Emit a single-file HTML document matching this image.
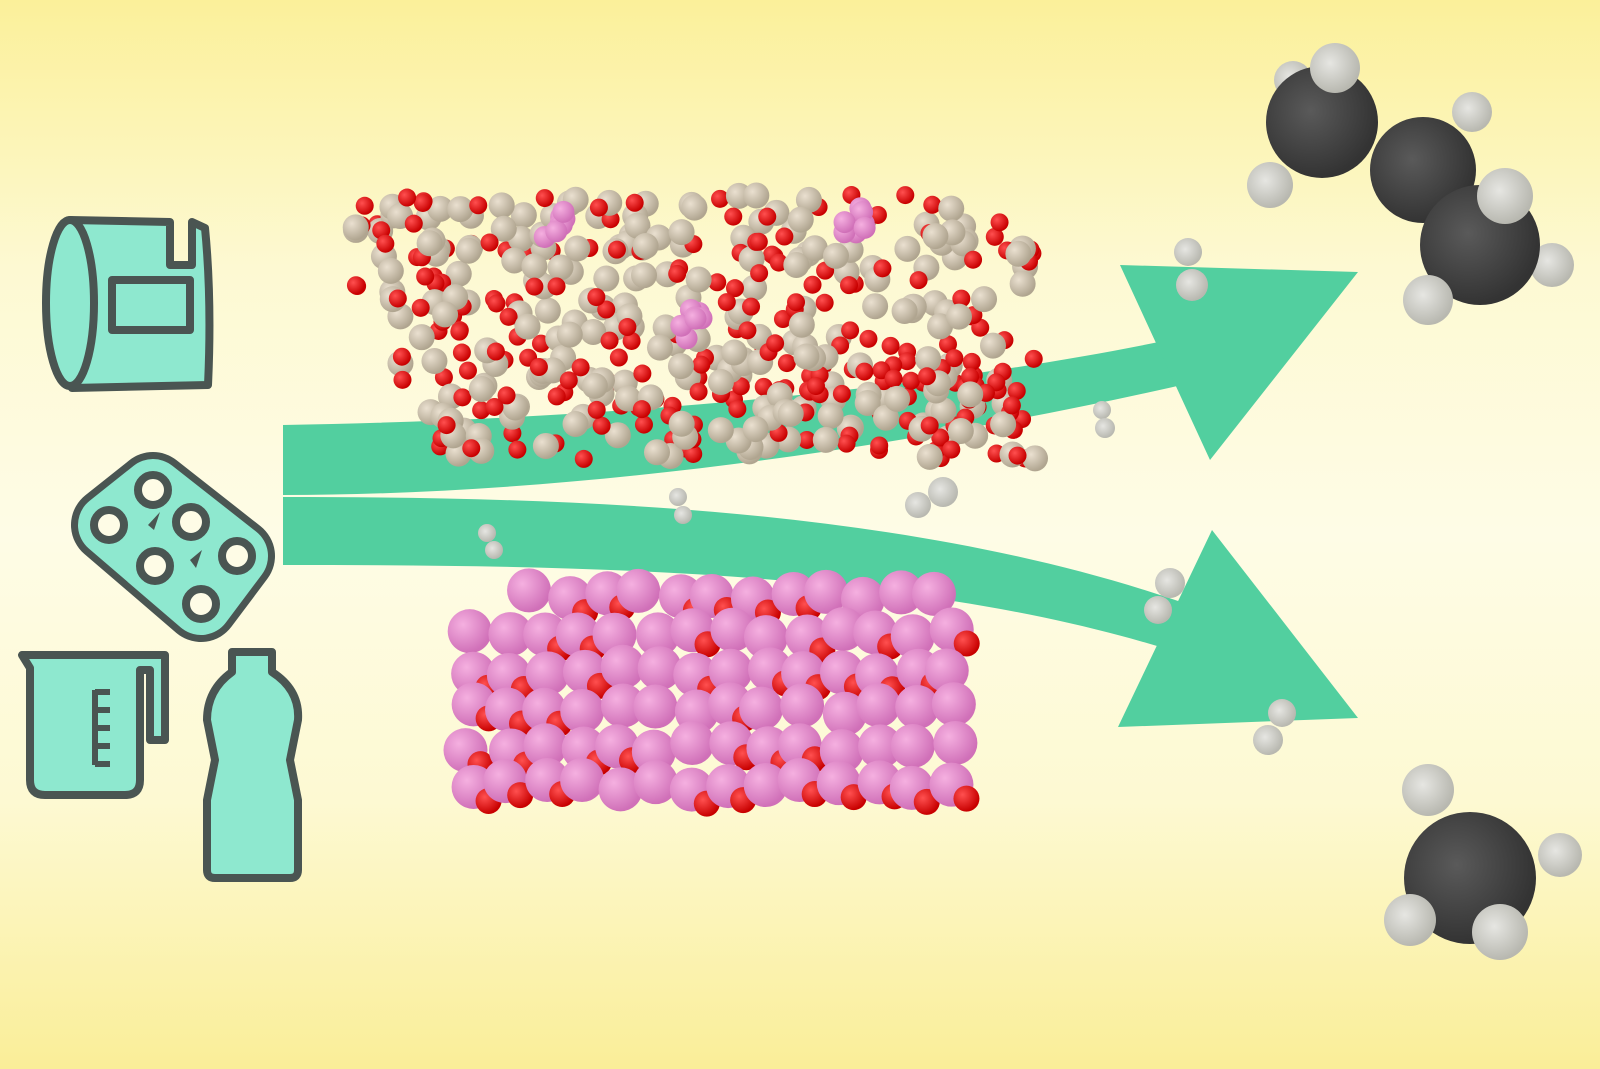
<!DOCTYPE html>
<html><head><meta charset="utf-8">
<style>html,body{margin:0;padding:0;width:1600px;height:1069px;overflow:hidden}</style>
</head><body>
<svg id="s" width="1600" height="1069" viewBox="0 0 1600 1069" xmlns="http://www.w3.org/2000/svg">
<defs>
<linearGradient id="bg" x1="0" y1="0" x2="0" y2="1">
<stop offset="0" stop-color="#fbf09a"/><stop offset="0.25" stop-color="#fdf9d2"/>
<stop offset="0.5" stop-color="#fefce6"/><stop offset="0.75" stop-color="#fdf9d2"/>
<stop offset="1" stop-color="#faee98"/></linearGradient>
<radialGradient id="dk" cx="0.4" cy="0.4" r="0.6"><stop offset="0" stop-color="#5a5a5a"/><stop offset="1" stop-color="#333"/></radialGradient>
<radialGradient id="wh" cx="0.4" cy="0.4" r="0.6"><stop offset="0" stop-color="#e6e6e2"/><stop offset="1" stop-color="#b8b8b0"/></radialGradient>
<radialGradient id="rd" cx="0.35" cy="0.35" r="0.65"><stop offset="0" stop-color="#ff5050"/><stop offset="1" stop-color="#c80000"/></radialGradient>
<radialGradient id="bz" cx="0.35" cy="0.35" r="0.65"><stop offset="0" stop-color="#eae0d0"/><stop offset="1" stop-color="#b0a590"/></radialGradient>
<radialGradient id="pk" cx="0.35" cy="0.35" r="0.65"><stop offset="0" stop-color="#f5b0e0"/><stop offset="1" stop-color="#d070b8"/></radialGradient>
</defs>
<rect width="1600" height="1069" fill="url(#bg)"/>
<g fill="#52cf9f">
<path d="M283,425 C600,420 950,390 1215,330 L1225,375 C950,440 600,495 283,495 Z"/>
<polygon points="1120,265 1358,272 1210,460"/>
<path d="M283,497 C600,497 950,510 1230,620 L1215,665 C950,570 600,565 283,565 Z"/>
<polygon points="1212,530 1358,718 1118,727"/>
</g>
<g id="top"></g>
<g id="bot"></g>
<g fill="#8ee8cf" stroke="#4a5552" stroke-width="8" stroke-linejoin="round">
<path d="M70,220 L170,222 L170,265 L192,265 L192,222 L205,228 Q212,300 208,385 L72,388 Q42,300 70,220 Z"/>
<ellipse cx="70" cy="303" rx="24" ry="83"/>
<rect x="112" y="280" width="78" height="50"/>
<path d="M22,655 L165,655 L165,740 L150,740 L150,670 L140,670 L140,780 Q140,795 125,795 L45,795 Q30,795 30,780 L30,668 Z"/>
<path d="M232,652 L272,652 L272,672 Q300,690 298,720 L290,760 L298,800 L298,870 Q298,878 290,878 L215,878 Q207,878 207,870 L207,800 L215,760 L207,720 Q207,690 232,672 Z"/>
</g>
<!-- six pack -->
<g>
<polygon points="109,525 153,490 237,556 201,604" fill="#4a5552" stroke="#4a5552" stroke-width="76" stroke-linejoin="round"/>
<polygon points="109,525 153,490 237,556 201,604" fill="#8ee8cf" stroke="#8ee8cf" stroke-width="62" stroke-linejoin="round"/>
<polygon points="109,525 153,490 237,556 201,604" fill="none" stroke="#4a5552" stroke-width="52" stroke-linejoin="round" opacity="0"/>
</g>
<g fill="#fefce6" stroke="#4a5552" stroke-width="8">
<circle cx="153" cy="490" r="15"/><circle cx="109" cy="525" r="15"/><circle cx="191" cy="522" r="15"/>
<circle cx="155" cy="566" r="15"/><circle cx="237" cy="556" r="15"/><circle cx="201" cy="604" r="15"/>
</g>
<g fill="#4a5552"><polygon points="148,525 160,512 154,530"/><polygon points="190,560 202,550 196,568"/></g>
<g stroke="#4a5552" stroke-width="6"><line x1="95" y1="690" x2="95" y2="765"/><line x1="95" y1="692" x2="110" y2="692"/><line x1="95" y1="710" x2="110" y2="710"/><line x1="95" y1="728" x2="110" y2="728"/><line x1="95" y1="746" x2="110" y2="746"/><line x1="95" y1="764" x2="110" y2="764"/></g>
<g fill="url(#wh)">
<circle cx="1188" cy="252" r="14"/><circle cx="1192" cy="285" r="16"/>
<circle cx="1102" cy="410" r="9"/><circle cx="1105" cy="428" r="10"/>
<circle cx="918" cy="505" r="13"/><circle cx="943" cy="492" r="15"/>
<circle cx="678" cy="497" r="9"/><circle cx="683" cy="515" r="9"/>
<circle cx="487" cy="533" r="9"/><circle cx="494" cy="550" r="9"/>
<circle cx="1170" cy="583" r="15"/><circle cx="1158" cy="610" r="14"/>
<circle cx="1282" cy="713" r="14"/><circle cx="1268" cy="740" r="15"/>
</g>
<g>
<circle cx="1293" cy="80" r="19" fill="url(#wh)"/>
<circle cx="1472" cy="112" r="20" fill="url(#wh)"/>
<circle cx="1552" cy="265" r="22" fill="url(#wh)"/>
<circle cx="1322" cy="122" r="56" fill="url(#dk)"/>
<circle cx="1335" cy="68" r="25" fill="url(#wh)"/>
<circle cx="1270" cy="185" r="23" fill="url(#wh)"/>
<circle cx="1423" cy="170" r="53" fill="url(#dk)"/>
<circle cx="1480" cy="245" r="60" fill="url(#dk)"/>
<circle cx="1505" cy="196" r="28" fill="url(#wh)"/>
<circle cx="1428" cy="300" r="25" fill="url(#wh)"/>
</g>
<g>
<circle cx="1428" cy="790" r="26" fill="url(#wh)"/>
<circle cx="1560" cy="855" r="22" fill="url(#wh)"/>
<circle cx="1470" cy="878" r="66" fill="url(#dk)"/>
<circle cx="1410" cy="920" r="26" fill="url(#wh)"/>
<circle cx="1500" cy="932" r="28" fill="url(#wh)"/>
</g>
<script>
var seed=7;function r(){seed=(seed*16807)%2147483647;return (seed-1)/2147483646;}
var ns="http://www.w3.org/2000/svg";
function c(g,x,y,rad,f){var e=document.createElementNS(ns,"circle");e.setAttribute("cx",x);e.setAttribute("cy",y);e.setAttribute("r",rad);e.setAttribute("fill",f);g.appendChild(e);}
var t=document.getElementById("top");
for(var i=0;i<520;i++){var x=355+r()*680,y=195+r()*265;
 if(x<400&&y>300)continue; if(x>960&&y<220)continue; if(x<430&&y>380)continue;
 if(r()<0.5)c(t,x,y,13,"url(#bz)");else c(t,x,y,9,"url(#rd)");}
[[555,225],[850,218],[695,325]].forEach(function(p){for(var k=0;k<7;k++)c(t,p[0]+(r()-0.5)*30,p[1]+(r()-0.5)*30,11,"url(#pk)");});
var b=document.getElementById("bot");
for(var j=0;j<6;j++){for(var i=0;i<15;i++){var y=595+j*38+(r()-0.5)*10;var x0=470+(j==0?60:0);var x=x0+i*37+(r()-0.5)*10;
 if(x>975-(j==0?40:0))continue; c(b,x,y,22,"url(#pk)"); if(r()<0.55)c(b,x+15,y+14,13,"url(#rd)");}}
</script>
</svg>
</body></html>
